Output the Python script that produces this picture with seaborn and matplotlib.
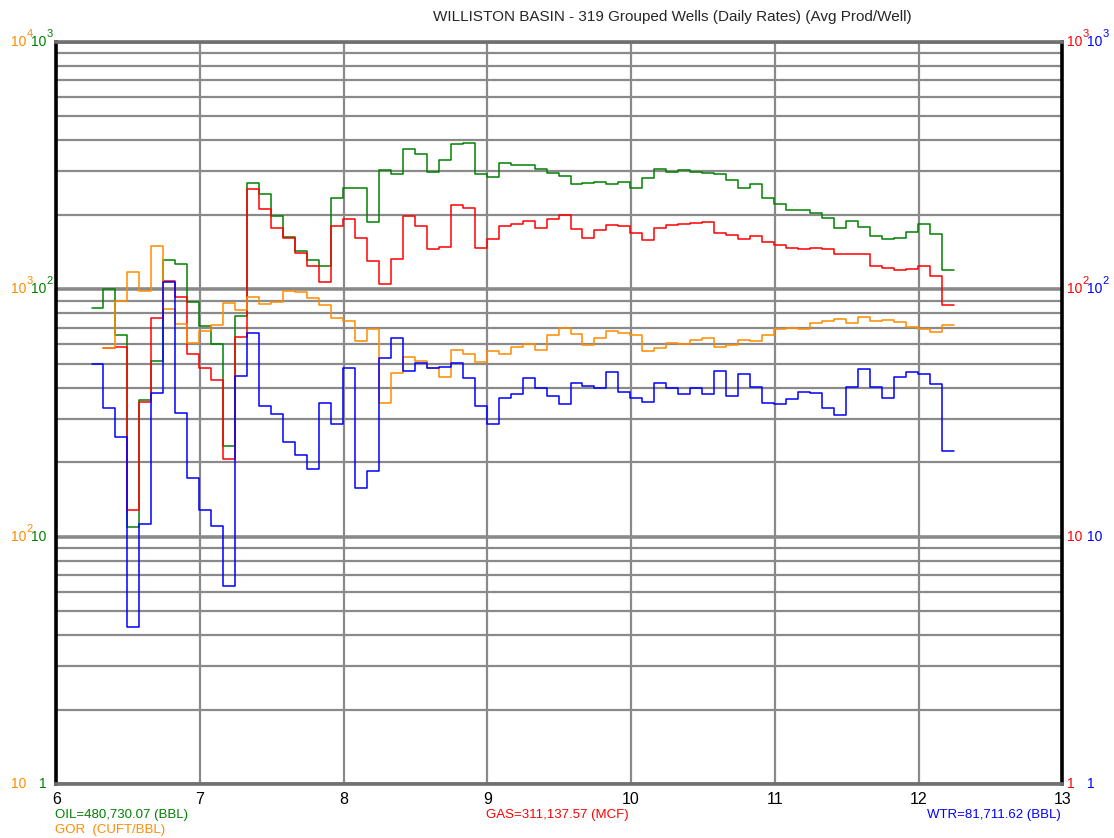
"""
plot.py

Williston Basin grouped-well production: average daily rates per well,
oil / gas / water / GOR on one log scale, drawn as monthly steps.
"""

import matplotlib.pyplot as plt
import matplotlib.transforms as mtransforms
import numpy as np
import pandas as pd
import seaborn as sns

# first month edge (years since 2000) and the month length
START = 6.245
MONTH = 1 / 12

# monthly averages per well
oil = [84.3, 100, 65.2, 10.9, 35.7, 51.3, 131, 127, 88.6, 70.8, 60.3, 23.3,
       77.8, 270, 242, 198, 163, 143, 132, 124, 235, 258, 258, 187.5,
       303, 292, 370, 352, 299, 333, 386, 391, 292, 283.5, 325, 318,
       317, 307, 296, 288, 266, 270, 272, 266, 272, 258, 281, 307,
       297, 303, 297, 296, 292, 276.5, 258, 266, 235, 220.5, 209, 209,
       204, 195, 177, 189, 178, 164, 160, 162, 170, 183, 168, 120]
gas = [np.nan, 57.8, 58.6, 12.8, 35.1, 76.6, 108, 92.9, 54.9, 48, 43, 20.7,
       64.2, 255, 211, 177.5, 161.7, 139.7, 124, 106.7, 180, 193, 162, 130.5,
       105.3, 132.5, 198, 180, 146, 148, 220, 214, 147, 160, 180, 183.6,
       189, 177.4, 193, 200, 175.7, 161.7, 173.7, 182, 180, 168.4, 158.2, 177.4,
       182, 183.2, 184.8, 187.5, 168.4, 165.7, 159.7, 164.2, 155.7, 151, 147.3, 145.9,
       147.3, 145.9, 138.4, 138.4, 138.4, 124.2, 122.3, 119.4, 121.1, 124.2, 113.2, 86.5]
# GOR is plotted in tens of CUFT/BBL so it shares the same scale
gor = [np.nan, 57.8, 90, 117, 98.7, 149.6, 83, 72.6, 60.8, 68, 71.5, 88.3,
       82.8, 93.3, 87.5, 88.9, 98.7, 97.3, 92, 86.5, 76.4, 74.5, 62, 68.9,
       34.8, 46, 53.2, 51.2, 47.9, 44.2, 57, 54.6, 50.7, 56.3, 54.8, 58.6,
       60.1, 56.9, 65.2, 69.6, 66.2, 59.4, 63.4, 68.1, 66.4, 65.2, 56.5, 57.8,
       60.8, 60.3, 62.4, 63.4, 58.6, 59.4, 62.4, 61.8, 65.2, 68.9, 69.6, 68.9,
       72.9, 74.5, 76.1, 72.9, 77.3, 74.5, 75.4, 73.8, 70.6, 68.9, 67.2, 71.5]
wtr = [49.9, 33, 25.2, 4.33, 11.2, 38.2, 106.7, 31.7, 17.3, 12.8, 11.0, 6.29,
       44.6, 66.8, 33.9, 31.3, 24.2, 21.3, 18.8, 34.7, 28.5, 48, 15.8, 18.5,
       52.6, 63.4, 46.9, 50.5, 48, 48.7, 50.5, 43.7, 33.8, 28.5, 36.3, 37.7,
       43.7, 40, 37.1, 34.3, 41.7, 40.8, 39.8, 46.5, 38.6, 36.3, 35.1, 41.9,
       39.9, 37.8, 39.8, 37.8, 46.7, 37.2, 45.4, 40.4, 34.8, 34.3, 35.9, 38.6,
       38.2, 33.2, 30.9, 40.4, 47.5, 40.4, 36.3, 44.4, 46.2, 45.5, 41.3, 22.1]

series = {"OIL": oil, "GAS": gas, "GOR": gor, "WTR": wtr}
colors = {"OIL": "#008000", "GAS": "#ff0000", "GOR": "#ff8c00", "WTR": "#0000ff"}

year_ticks = [6, 7, 8, 9, 10, 11, 12, 13]
decades = [1, 10, 100, 1000]
gor_labels = [("10", ""), ("10", "2"), ("10", "3"), ("10", "4")]
rate_labels = [("1", ""), ("10", ""), ("10", "2"), ("10", "3")]

title = "WILLISTON BASIN - 319 Grouped Wells (Daily Rates) (Avg Prod/Well)"
oil_total = "OIL=480,730.07 (BBL)"
gor_units = "GOR  (CUFT/BBL)"
gas_total = "GAS=311,137.57 (MCF)"
wtr_total = "WTR=81,711.62 (BBL)"


def step_frame(name, values):
    """Long frame of month edges; the last value is repeated to close the step."""
    vals = list(values) + [values[-1]]
    x = START + np.arange(len(vals)) * MONTH
    df = pd.DataFrame({"year": x, "rate": vals, "series": name})
    return df.dropna()


data = pd.concat([step_frame(k, v) for k, v in series.items()], ignore_index=True)

sns.set_theme(style="white")
plt.rcParams["font.family"] = ["Liberation Sans", "DejaVu Sans"]

W, H = 1114, 838
fig = plt.figure(figsize=(W / 100, H / 100), dpi=100)
ax = fig.add_axes([56.3 / W, 1 - 784 / H, (1062.2 - 56.3) / W, (784 - 42) / H])

ax.set_yscale("log")
ax.set_xlim(6, 13)
ax.set_ylim(1, 1000)

# grid first so the rate lines sit on top
ax.set_axisbelow(True)
ax.yaxis.grid(True, which="major", color="#8a8a8a", lw=2.6)
ax.yaxis.grid(True, which="minor", color="#8a8a8a", lw=1.6)
ax.xaxis.grid(True, which="major", color="#8a8a8a", lw=1.6)

sns.lineplot(data=data, x="year", y="rate", hue="series", palette=colors,
             hue_order=["OIL", "GAS", "GOR", "WTR"], estimator=None,
             drawstyle="steps-post", lw=1.1, legend=False, ax=ax)

ax.set_xticks(year_ticks)
ax.set_xticklabels([str(t) for t in year_ticks], fontsize=11.5, color="black")
ax.tick_params(axis="x", length=0, pad=6)
ax.tick_params(axis="y", which="both", length=0, labelleft=False)
ax.set_xlabel("")
ax.set_ylabel("")

for side in ["left", "right"]:
    ax.spines[side].set_color("black")
    ax.spines[side].set_linewidth(2.6)
for side in ["top", "bottom"]:
    ax.spines[side].set_color("#707070")
    ax.spines[side].set_linewidth(2.6)

# value labels for the four scales, placed in figure pixels
trans = mtransforms.blended_transform_factory(fig.transFigure, ax.transData)
sup_trans = mtransforms.offset_copy(trans, fig=fig, x=0, y=8, units="dots")


def power_text(x_px, val, base, exp, color, align):
    ax.text(x_px / W, val, base, transform=trans, ha=align, va="center",
            fontsize=10, color=color, clip_on=False)
    sx = x_px if align == "right" else x_px + 7.6 * len(base)
    if exp:
        ax.text(sx / W, val, exp, transform=sup_trans, ha="left", va="center",
                fontsize=8, color=color, clip_on=False)


for val, (gb, ge), (rb, re_) in zip(decades, gor_labels, rate_labels):
    power_text(26.5, val, gb, ge, colors["GOR"], "right")
    power_text(46.5, val, rb, re_, colors["OIL"], "right")
    power_text(1067, val, rb, re_, colors["GAS"], "left")
    power_text(1087, val, rb, re_, colors["WTR"], "left")

fig.text(672 / W, 1 - 17 / H, title, ha="center", va="center", fontsize=11)
fig.text(55 / W, 1 - 815 / H, oil_total, ha="left", va="center",
         fontsize=9.5, color=colors["OIL"])
fig.text(55 / W, 1 - 829.5 / H, gor_units, ha="left", va="center",
         fontsize=9.5, color=colors["GOR"])
fig.text(557 / W, 1 - 815 / H, gas_total, ha="center", va="center",
         fontsize=9.5, color=colors["GAS"])
fig.text(1061 / W, 1 - 815 / H, wtr_total, ha="right", va="center",
         fontsize=9.5, color=colors["WTR"])

fig.savefig("out.png", dpi=100)
